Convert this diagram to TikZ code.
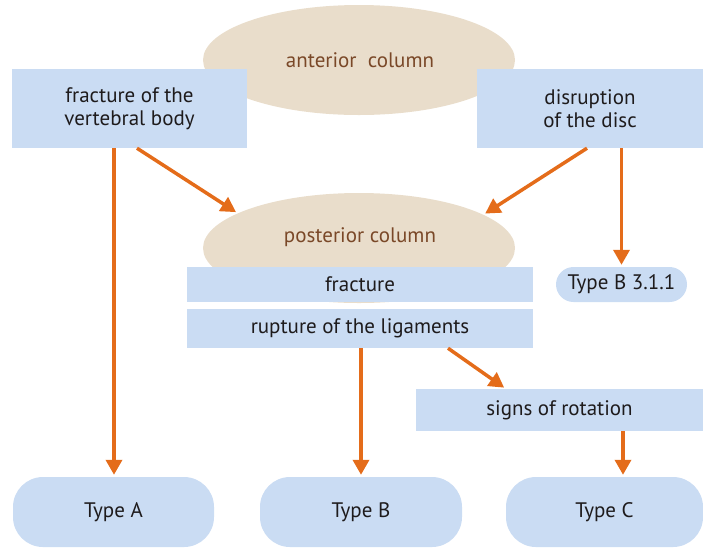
\documentclass[tikz,border=0pt]{standalone}
\usepackage{fontspec}
\setmainfont{PT Sans}
\usetikzlibrary{shapes.geometric,arrows.meta,calc}
\definecolor{boxblue}{RGB}{202,220,243}
\definecolor{coltan}{RGB}{233,221,203}
\definecolor{arrorange}{RGB}{228,108,26}
\definecolor{colbrown}{RGB}{122,72,40}
\definecolor{inkdark}{RGB}{30,27,28}
\begin{document}
\begin{tikzpicture}[x=1pt,y=-1pt,
  every node/.style={inner sep=0pt,font=\fontsize{21}{23}\selectfont,text=inkdark,align=center},
  colellipse/.style={ellipse,fill=coltan,minimum width=312pt,minimum height=110pt},
  collabel/.style={text=colbrown},
  infobox/.style={rectangle,fill=boxblue},
  typebox/.style={rectangle,rounded corners=30pt,fill=boxblue,minimum height=70pt},
  arr/.style={draw=arrorange,line width=3.5pt,shorten >=2pt,
    -{Triangle[length=15pt,width=16pt]}}]
\useasboundingbox (0,0) rectangle (703,547);

% the two columns
\node[colellipse] (ant) at (359,60) {};
\node[collabel] (antlabel) at (360,60) {anterior\ \ column};
\node[colellipse] (post) at (359,248) {};
\node[collabel] (postlabel) at (360,237) {posterior column};

% findings
\node[infobox,minimum width=235pt,minimum height=79pt] (vb) at (129.5,108.5) {fracture of the\\vertebral body};
\node[infobox,minimum width=226pt,minimum height=79pt] (vd) at (590,108.5) {disruption\\of the disc};
\node[infobox,minimum width=346pt,minimum height=35pt] (frac) at (360,284.5) {fracture};
\node[infobox,minimum width=346pt,minimum height=39pt] (rup) at (360,328.5) {rupture of the ligaments};
\node[infobox,minimum width=287pt,minimum height=42pt] (sig) at (559.5,410) {signs of rotation};

% resulting types
\node[rectangle,rounded corners=17.5pt,fill=boxblue,minimum width=131pt,minimum height=35pt] (t311) at (621.5,284.5) {Type B 3.1.1};
\node[typebox,minimum width=201pt] (tA) at (113.5,512) {Type A};
\node[typebox,minimum width=202pt] (tB) at (361,512) {Type B};
\node[typebox,minimum width=197pt] (tC) at (604.5,512) {Type C};

% connectors
\draw[arr] ($(vb.south)+(-15.5,0)$) coordinate (a1) -- (a1 |- tA.north);
\draw[arr] ($(vb.south)+(7.5,0)$) -- (post.164);
\draw[arr] ($(vd.south)+(-3,0)$) -- (post.15);
\draw[arr] (vd.south -| t311.north) -- (t311.north);
\draw[arr] (rup.south -| tB.north) -- (tB.north);
\draw[arr] ($(rup.south)+(88,0)$) -- ($(sig.north west)+(90,0)$);
\draw[arr] ($(sig.south)+(63.5,0)$) coordinate (s1) -- (s1 |- tC.north);
\end{tikzpicture}
\end{document}
